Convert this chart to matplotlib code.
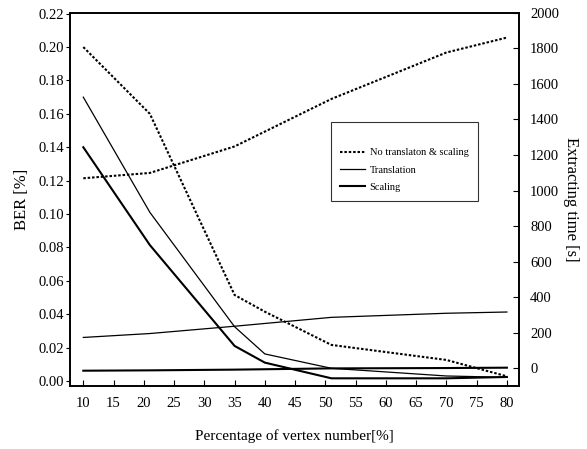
import matplotlib
matplotlib.use("Agg")
import matplotlib.pyplot as plt
from matplotlib.lines import Line2D

plt.rcParams['font.family'] = ['Liberation Serif', 'DejaVu Serif']

# BER data (left axis)
x_ber = [10, 21, 35, 40, 51, 70, 80]
ber_none = [0.200, 0.160, 0.0515, 0.0415, 0.0216, 0.0126, 0.0028]
ber_trans = [0.170, 0.101, 0.0325, 0.0162, 0.0076, 0.0030, 0.0022]
ber_scal = [0.140, 0.0814, 0.021, 0.011, 0.0016, 0.0016, 0.0024]

# Extracting time data (right axis)
x_time = [10, 21, 35, 51, 70, 80]
time_none = [1069, 1099, 1248, 1515, 1776, 1860]
time_trans = [174, 196, 237, 287, 310, 317]
time_scal = [-13, -11, -7, 0, 2, 4]

xticks = list(range(10, 85, 5))
ber_ticks = [0.00, 0.02, 0.04, 0.06, 0.08, 0.10, 0.12, 0.14, 0.16, 0.18, 0.20, 0.22]
time_ticks = list(range(0, 2001, 200))

labels = ["No translaton & scaling", "Translation", "Scaling"]

fig = plt.figure(figsize=(5.87, 4.49), dpi=100)
ax = fig.add_axes([70/587, 1-386/449, (519-70)/587, (386-12.5)/449])
ax2 = ax.twinx()

dot = (0, (1.2, 0.9))
ax.plot(x_ber, ber_none, color='black', lw=1.5, linestyle=dot)
ax.plot(x_ber, ber_trans, color='black', lw=0.9)
ax.plot(x_ber, ber_scal, color='black', lw=1.5)

ax2.plot(x_time, time_none, color='black', lw=1.5, linestyle=dot)
ax2.plot(x_time, time_trans, color='black', lw=0.9)
ax2.plot(x_time, time_scal, color='black', lw=1.5)

ax.set_xlim(7.8, 82.0)
ax.set_ylim(-0.003, 0.2207)
ax2.set_ylim(-99, 2001)

ax.set_xticks(xticks)
ax.set_xticklabels([str(v) for v in xticks])
ax.set_yticks(ber_ticks)
ax.set_yticklabels([f"{v:.2f}" for v in ber_ticks])
ax2.set_yticks(time_ticks)
ax2.set_yticklabels([str(v) for v in time_ticks])

ax.tick_params(axis='x', direction='in', length=4, labelsize=10.5, pad=8)
ax.tick_params(axis='y', direction='out', length=3, labelsize=10.5, pad=1.5)
ax2.tick_params(axis='y', direction='in', length=4, labelsize=10.5, pad=8)

for a in (ax, ax2):
    for s in a.spines.values():
        s.set_linewidth(1.2)

ax.set_xlabel("Percentage of vertex number[%]", fontsize=11, labelpad=14)
ax.set_ylabel("BER [%]", fontsize=12, labelpad=6)
ax2.set_ylabel("Extracting time [s]", fontsize=12, rotation=270, labelpad=14)

handles = [Line2D([], [], color='black', lw=1.5, linestyle=dot),
           Line2D([], [], color='black', lw=0.9),
           Line2D([], [], color='black', lw=1.5)]
leg = ax2.legend(handles, labels, loc='upper left',
                 bbox_to_anchor=((331-70)/449, 1-(122-12.5)/373.5),
                 fontsize=7.5, frameon=True, fancybox=False, borderpad=0.9,
                 handlelength=2.4, handletextpad=0.4, labelspacing=0.75,
                 borderaxespad=0, title=" ", title_fontsize=7.5)
leg.get_frame().set_edgecolor('black')
leg.get_frame().set_linewidth(0.8)

fig.savefig("out.png", dpi=100)
